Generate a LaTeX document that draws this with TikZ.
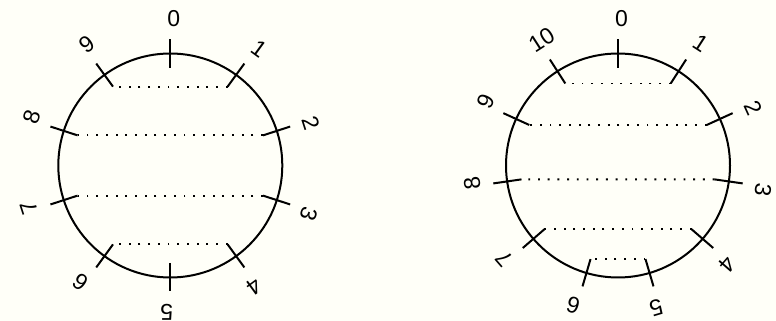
\documentclass[tikz,border=0pt]{standalone}
\usepackage{fontspec}
\setmainfont{Liberation Sans}
\usetikzlibrary{calc}
\definecolor{bg}{RGB}{255,255,248}
\begin{document}
\begin{tikzpicture}[x=1pt,y=1pt,
  ring/.style={line width=2pt},
  tickmark/.style={line width=2pt},
  chord/.style={line width=1.9pt, dash pattern=on 1.9pt off 7.8pt},
  lbl/.style={font=\fontsize{23}{23}\selectfont, inner sep=0pt, anchor=center}]
\fill[bg] (0,0) rectangle (776,321);
\useasboundingbox (0,0) rectangle (776,321);
\foreach \c/\n/\cx in {L/10/170.3, R/11/618} {
  \coordinate (\c) at (\cx,155.5);
  \draw[ring] (\c) circle[radius=112];
  \pgfmathtruncatemacro\last{\n-1}
  \foreach \i in {0,...,\last} {
    \pgfmathsetmacro\a{90-360*\i/\n}
    \pgfmathsetmacro\r{-360*\i/\n}
    \coordinate (\c-in-\i) at ($(\c)+(\a:97.5)$);
    \coordinate (\c-out-\i) at ($(\c)+(\a:126)$);
    \draw[tickmark] (\c-in-\i) -- (\c-out-\i);
    \path (\c) ++(\a:147) ++(\r:3.5) node[lbl, rotate=\r] (\c-lab-\i) {\i};
  }
}
\foreach \i in {1,...,4} {
  \pgfmathtruncatemacro\j{10-\i}
  \draw[chord] (L-in-\i) -- (L-in-\j);
}
\foreach \i in {1,...,5} {
  \pgfmathtruncatemacro\j{11-\i}
  \draw[chord] (R-in-\i) -- (R-in-\j);
}
\end{tikzpicture}
\end{document}
